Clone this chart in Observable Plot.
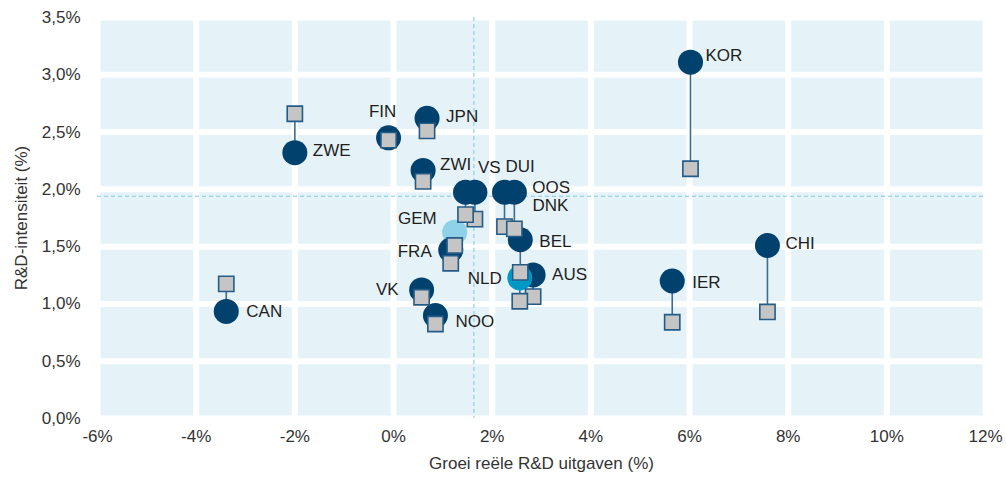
<!DOCTYPE html>
<html>
<head>
<meta charset="utf-8">
<script src="https://cdn.jsdelivr.net/npm/d3@7"></script>
<script src="https://cdn.jsdelivr.net/npm/@observablehq/plot@0.6"></script>
<style>
  html, body { margin: 0; padding: 0; background: #ffffff; }
  #chart svg { display: block; }
</style>
</head>
<body>
<div id="chart"></div>
<script>
// ---- Data ----
const countries     = ["KOR", "CHI", "IER", "ZWE", "CAN", "FIN", "JPN", "ZWI", "VS", "DNK", "DUI", "OOS", "GEM", "FRA", "AUS", "NLD", "BEL", "VK", "NOO"];
const growth        = [6.02, 7.58, 5.65, -2.00, -3.39, -0.10, 0.68, 0.60, 1.65, 1.46, 2.25, 2.45, 1.24, 1.16, 2.83, 2.56, 2.57, 0.57, 0.85];
const intensityNow  = [3.11, 1.51, 1.20, 2.32, 0.935, 2.45, 2.62, 2.165, 1.975, 1.975, 1.975, 1.975, 1.626, 1.47, 1.253, 1.227, 1.56, 1.122, 0.898];
const intensityThen = [2.18, 0.93, 0.84, 2.66, 1.175, 2.43, 2.51, 2.07, 1.74, 1.78, 1.675, 1.655, 1.51, 1.355, 1.064, 1.023, 1.276, 1.058, 0.825];
const averageGrowth = 1.63;
const averageIntensity = 1.94;
const xTicks = [-6, -4, -2, 0, 2, 4, 6, 8, 10, 12];
const yTicks = [0, 0.5, 1, 1.5, 2, 2.5, 3, 3.5];
const xTitle = "Groei reële R&D uitgaven (%)";
const yTitle = "R&D-intensiteit (%)";

// ---- Build table ----
const data = countries.map((c, i) => ({country: c, growth: growth[i], now: intensityNow[i], then: intensityThen[i]}));

// ---- Layout / style config ----
const navy = "#00416d", teal = "#0098c4", light = "#8ed1e8";
const labelOffsets = {
  KOR: [15, -7, "start"], CHI: [18, -2, "start"], IER: [20, 2, "start"], ZWE: [18, -2, "start"],
  CAN: [20, 0, "start"], FIN: [-6, -26, "middle"], JPN: [19, -2, "start"], ZWI: [17, -6, "start"],
  VS: [3, -25, "start"], DUI: [1, -26, "start"], OOS: [18, -5, "start"], DNK: [67, 13, "start"],
  GEM: [-18, -14, "end"], FRA: [-19, 1, "end"], BEL: [19, 2, "start"], NLD: [-18, 1, "end"],
  AUS: [19, 0, "start"], VK: [-23, 0, "end"], NOO: [20, 6, "start"]
};
const fillFor = d => d.country === "NLD" ? teal : d.country === "GEM" ? light : navy;

const labelMarks = data.map(d => {
  const [dx, dy, anchor] = labelOffsets[d.country];
  return Plot.text([d], {x: "growth", y: "now", text: "country", dx, dy, textAnchor: anchor, fontSize: 17, fill: "#1e1e1e"});
});

const chart = Plot.plot({
  width: 1006,
  height: 477,
  marginLeft: 97,
  marginRight: 21,
  marginTop: 17,
  marginBottom: 59,
  style: {fontFamily: "'Liberation Sans', Arial, sans-serif", fontSize: "17px", color: "#333", background: "#fff"},
  x: {domain: [-6, 12]},
  y: {domain: [0, 3.5]},
  marks: [
    Plot.frame({fill: "#e5f3f8", stroke: null}),
    Plot.ruleX(xTicks, {stroke: "white", strokeWidth: 6}),
    Plot.ruleY(yTicks, {stroke: "white", strokeWidth: 6}),
    Plot.ruleX([averageGrowth], {stroke: "#80c8e2", strokeWidth: 1, strokeDasharray: "4,3"}),
    Plot.ruleY([averageIntensity], {stroke: "#80c8e2", strokeWidth: 1, strokeDasharray: "4,3"}),
    Plot.axisX(xTicks, {tickSize: 0, tickPadding: 11, tickFormat: d => d + "%", label: xTitle, labelAnchor: "center", labelOffset: 50, labelArrow: "none", fontSize: 17, fill: "#333"}),
    Plot.axisY(yTicks, {tickSize: 0, tickPadding: 17, tickFormat: d => d.toFixed(1).replace(".", ",") + "%", label: yTitle, labelAnchor: "center", labelOffset: 83, labelArrow: "none", fontSize: 17, fill: "#333"}),
    Plot.link(data, {x1: "growth", y1: "now", x2: "growth", y2: "then", stroke: "#3b6d95", strokeWidth: 1.6}),
    Plot.dot(data, {x: "growth", y: "now", r: 12.5, fill: fillFor, stroke: null}),
    Plot.dot(data, {x: "growth", y: "then", r: 8.6, symbol: "square", fill: "#c5c5c5", stroke: "#245b87", strokeWidth: 1.6}),
    ...labelMarks
  ]
});
document.getElementById("chart").appendChild(chart);
</script>
</body>
</html>
